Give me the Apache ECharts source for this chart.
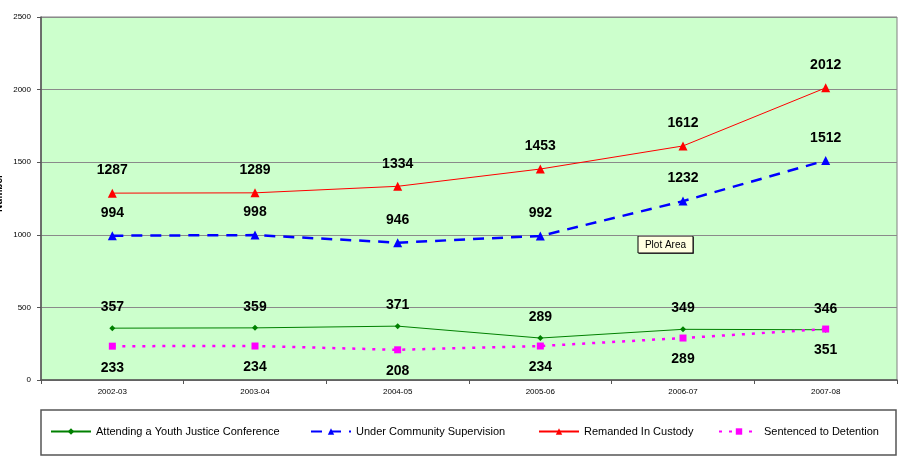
<!DOCTYPE html>
<html><head><meta charset="utf-8">
<script src="https://cdn.jsdelivr.net/npm/echarts@6/dist/echarts.min.js"></script>
<style>html,body{margin:0;padding:0;background:#fff}#c{width:898px;height:466px}</style>
</head><body><div id="c"></div>
<script>
var categories = ['2002-03','2003-04','2004-05','2005-06','2006-07','2007-08'];
var attending = [357,359,371,289,349,346];
var community = [994,998,946,992,1232,1512];
var remanded = [1287,1289,1334,1453,1612,2012];
var sentenced = [233,234,208,234,289,351];
var seriesNames = ['Attending a Youth Justice Conference','Under Community Supervision','Remanded In Custody','Sentenced to Detention'];

var chart = echarts.init(document.getElementById('c'));
var lbl = function(pos){return {show:true,position:pos,distance:11,color:'#000',fontFamily:'Liberation Sans, Arial',fontWeight:'bold',fontSize:14};};
var legendBase = function(name,left){return {data:[name],left:left,top:426,itemWidth:40,itemHeight:8,textStyle:{fontFamily:'Liberation Sans, Arial',fontSize:11,color:'#000'},padding:0,itemGap:4};};
chart.setOption({
  animation:false,
  grid:{left:41,right:1,top:17,bottom:86,containLabel:false,outerBoundsMode:'none',show:true,backgroundColor:'#ccffcc',borderColor:'#808080',borderWidth:1},
  xAxis:{type:'category',data:categories,boundaryGap:true,
    axisLine:{lineStyle:{color:'#555',width:1.5}},
    axisTick:{show:true,length:4,lineStyle:{color:'#555'}},
    axisLabel:{fontFamily:'Liberation Sans, Arial',fontSize:8,color:'#000',margin:8}},
  yAxis:{type:'value',min:0,max:2500,interval:500,
    axisLine:{show:true,lineStyle:{color:'#555',width:1.5}},
    axisTick:{show:true,length:4,lineStyle:{color:'#555'}},
    axisLabel:{fontFamily:'Liberation Sans, Arial',fontSize:8,color:'#000',margin:10,formatter:function(v){return String(v);}},
    splitLine:{lineStyle:{color:'#8a8a8a',width:1}}},
  legend:[legendBase(seriesNames[0],50),legendBase(seriesNames[1],310),legendBase(seriesNames[2],538),legendBase(seriesNames[3],718)],
  series:[
    {name:seriesNames[0],type:'line',data:attending,symbol:'diamond',symbolSize:6,
      lineStyle:{color:'#008000',width:1},itemStyle:{color:'#008000'},label:lbl('top')},
    {name:seriesNames[1],type:'line',data:community,symbol:'triangle',symbolSize:9,
      lineStyle:{color:'#0000ff',width:2.5,type:[11,8]},itemStyle:{color:'#0000ff'},label:lbl('top')},
    {name:seriesNames[2],type:'line',data:remanded,symbol:'triangle',symbolSize:9,
      lineStyle:{color:'#ff0000',width:1},itemStyle:{color:'#ff0000'},label:lbl('top')},
    {name:seriesNames[3],type:'line',data:sentenced,symbol:'rect',symbolSize:7,
      lineStyle:{color:'#ff00ff',width:2.5,type:[3,7]},itemStyle:{color:'#ff00ff'},label:lbl('bottom')}
  ],
  graphic:[
    {type:'text',x:-1,y:193,rotation:Math.PI/2,style:{text:'Number',align:'center',verticalAlign:'middle',font:'bold 10px Liberation Sans, Arial',fill:'#000'}},
    {type:'rect',x:41,y:410,shape:{x:0,y:0,width:855,height:45},style:{fill:'none',stroke:'#555',lineWidth:1.5},z:-1},
    {type:'group',x:638,y:236,children:[
      {type:'rect',shape:{x:1,y:1,width:55,height:17},style:{fill:'#555'}},
      {type:'rect',shape:{x:0,y:0,width:55,height:17},style:{fill:'#ffffe1',stroke:'#000',lineWidth:1}},
      {type:'text',style:{x:27.5,y:9,text:'Plot Area',align:'center',verticalAlign:'middle',font:'10px Liberation Sans, Arial',fill:'#000'}}
    ]}
  ]
});
</script></body></html>
